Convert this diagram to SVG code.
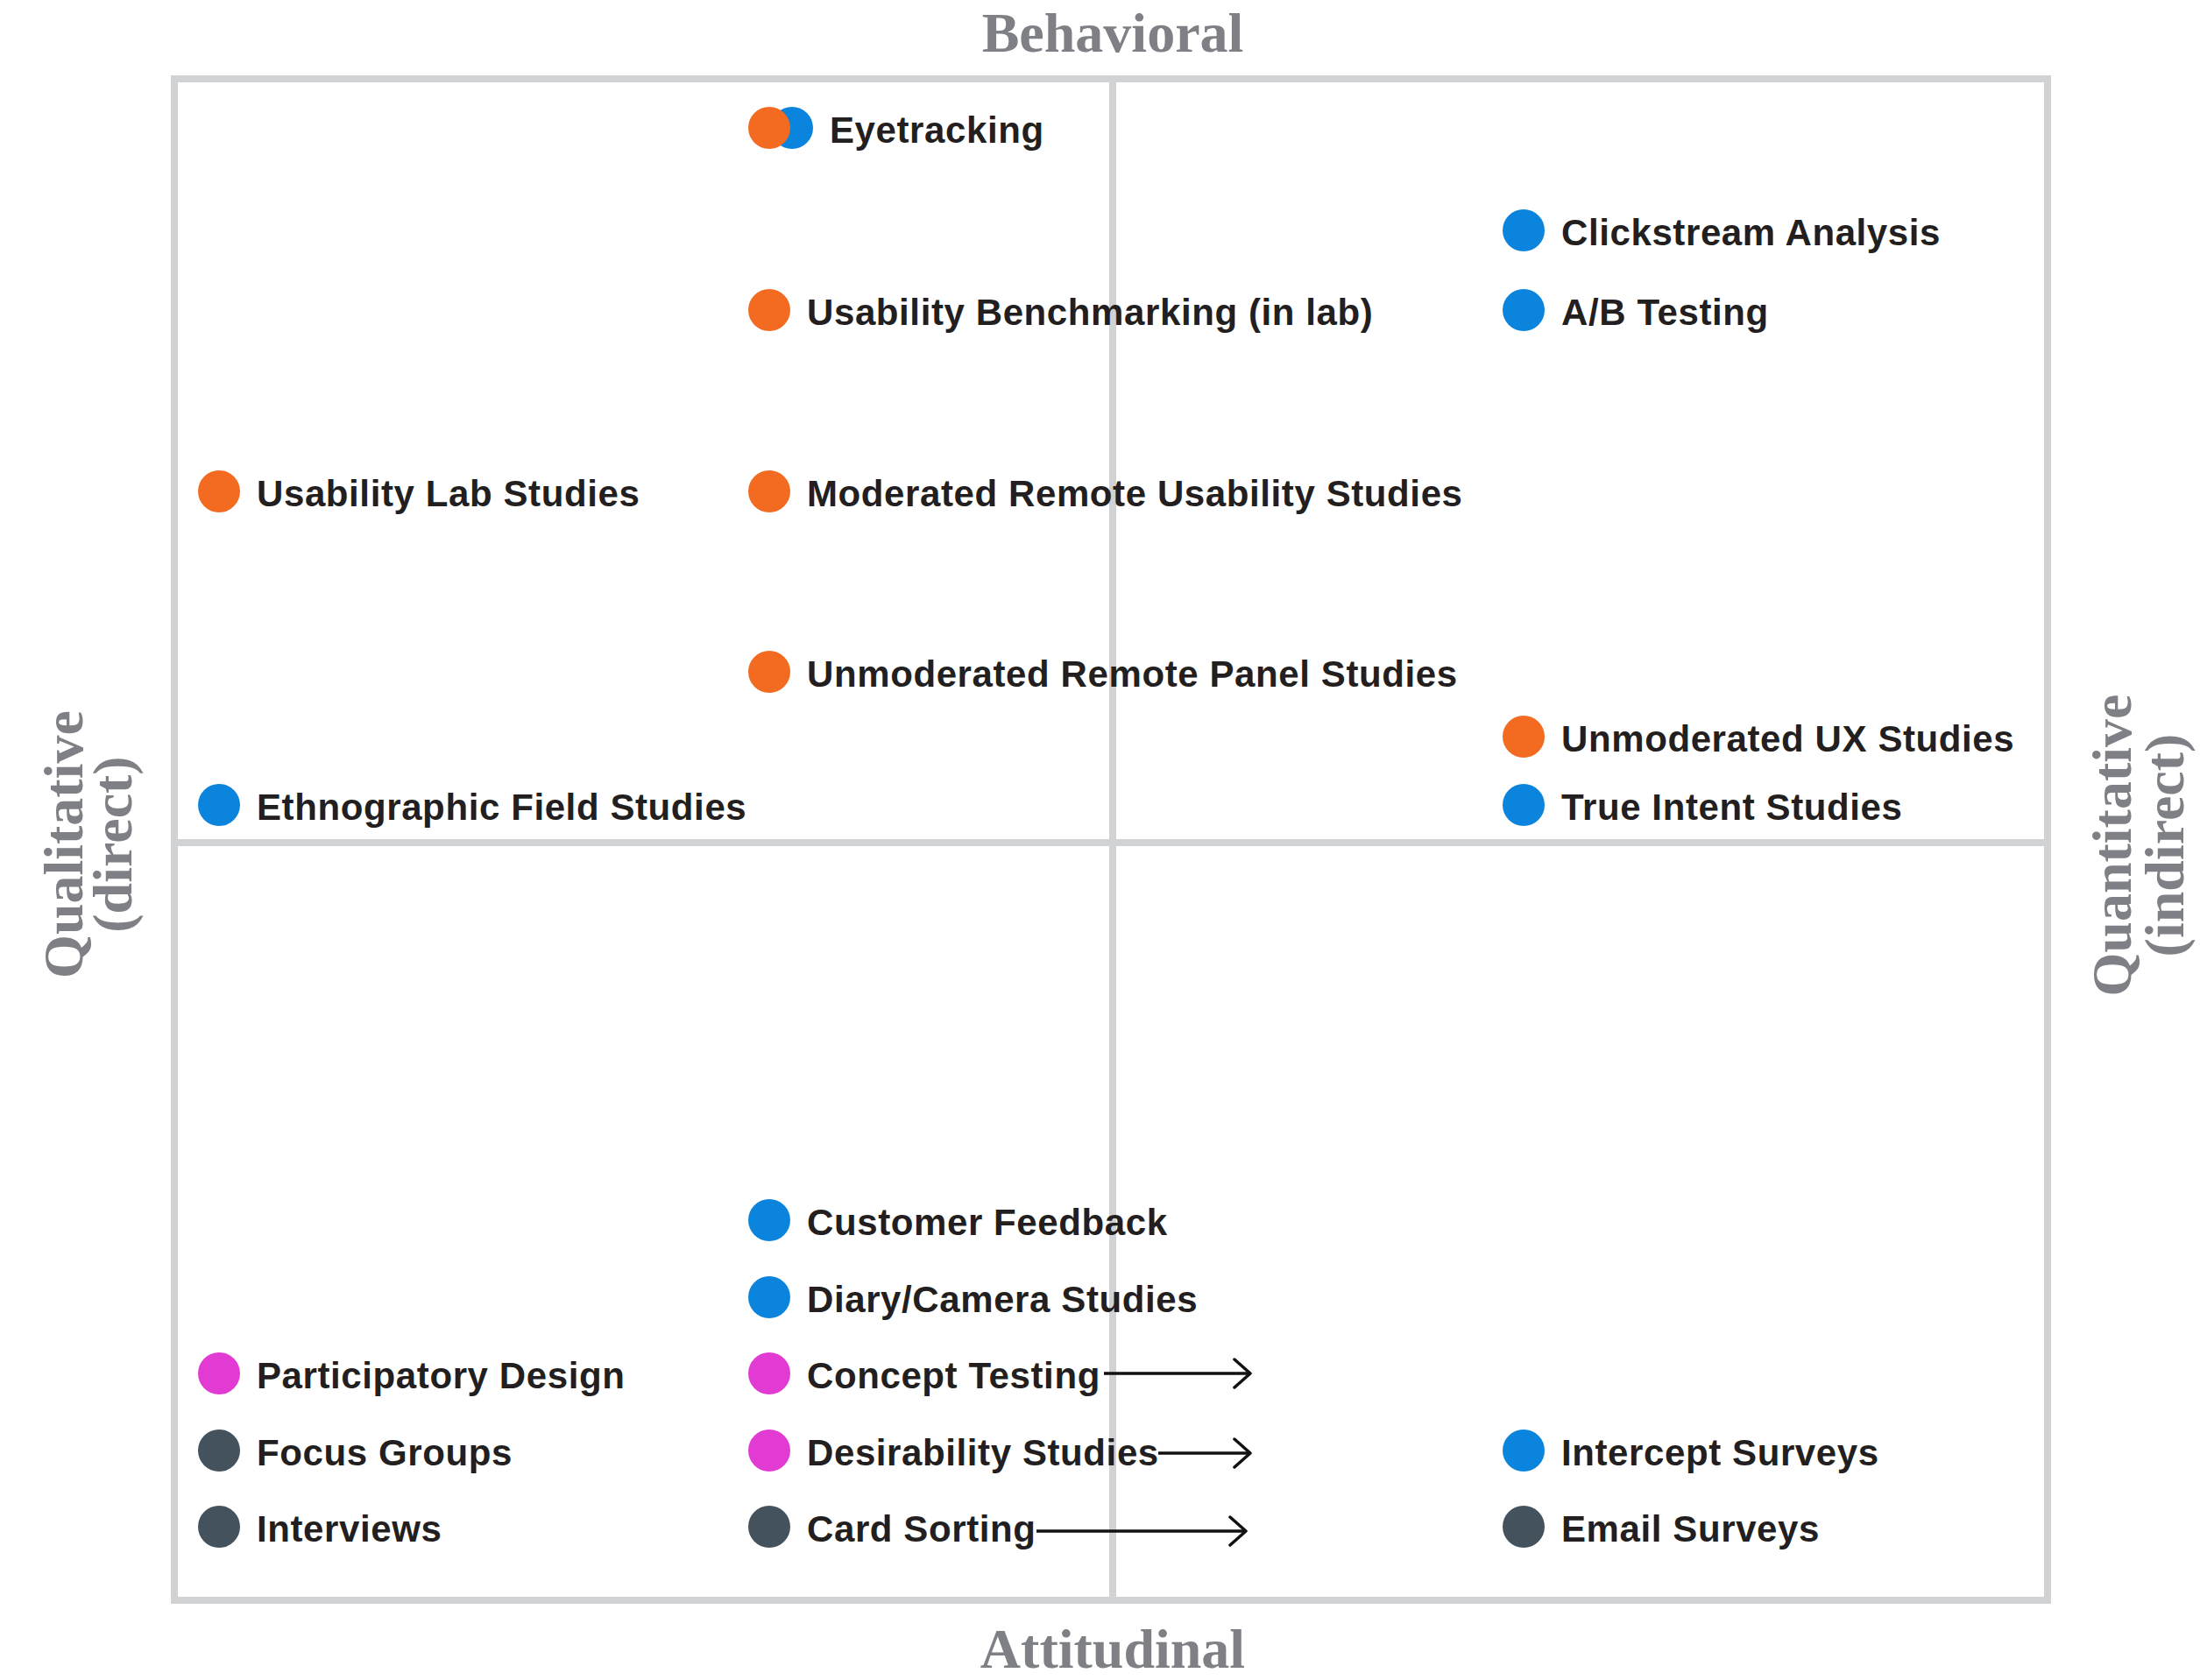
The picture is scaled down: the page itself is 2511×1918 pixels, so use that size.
<svg xmlns="http://www.w3.org/2000/svg" width="2511" height="1918" viewBox="0 0 2511 1918">
  <style>
    .frame { fill: none; stroke: #d1d2d4; stroke-width: 8; }
    .div { stroke: #d1d2d4; stroke-width: 8; }
    .axis { font-family: "Liberation Serif", "DejaVu Serif", serif; font-weight: bold; font-size: 64px; fill: #7f8085; text-anchor: middle; }
    .lbl { font-family: "Liberation Sans", Arial, sans-serif; font-weight: bold; font-size: 42px; fill: #231f20; letter-spacing: 0.6px; }
    .orange { fill: #f26b21; }
    .blue { fill: #0a84dc; }
    .magenta { fill: #e23bd3; }
    .dark { fill: #44525e; }
    .arrow { stroke: #111; stroke-width: 3.5; fill: none; marker-end: url(#chev); }
  </style>
  <defs>
    <marker id="chev" markerUnits="userSpaceOnUse" markerWidth="26" markerHeight="40" refX="21" refY="18" orient="auto" viewBox="0 0 26 40">
      <path d="M3,2 L21,18 L3,34" fill="none" stroke="#111" stroke-width="3.5" stroke-linecap="round" stroke-linejoin="round"/>
    </marker>
  </defs>
  <rect width="2511" height="1918" fill="#ffffff"/>

  <g id="grid">
    <rect class="frame" x="199" y="90" width="2138" height="1737"/>
    <line class="div" x1="1270" y1="90" x2="1270" y2="1827"/>
    <line class="div" x1="199" y1="962" x2="2337" y2="962"/>
  </g>

  <g id="axis-labels">
    <text class="axis" x="1270" y="59">Behavioral</text>
    <text class="axis" x="1270" y="1904">Attitudinal</text>
    <text class="axis" transform="translate(94,964) rotate(-90)">Qualitative</text>
    <text class="axis" transform="translate(150,964) rotate(-90)">(direct)</text>
    <text class="axis" transform="translate(2432,965) rotate(-90)">Quantitative</text>
    <text class="axis" transform="translate(2492,965) rotate(-90)">(indirect)</text>
  </g>

  <g id="node-eyetracking">
    <circle class="blue" cx="904" cy="146" r="24"/>
    <circle class="orange" cx="878" cy="146" r="24"/>
    <text class="lbl" x="947" y="163">Eyetracking</text>
  </g>
  <g id="node-clickstream">
    <circle class="blue" cx="1739" cy="263" r="24"/>
    <text class="lbl" x="1782" y="280">Clickstream Analysis</text>
  </g>
  <g id="node-ab">
    <circle class="blue" cx="1739" cy="354" r="24"/>
    <text class="lbl" x="1782" y="371">A/B Testing</text>
  </g>
  <g id="node-benchmarking">
    <circle class="orange" cx="878" cy="354" r="24"/>
    <text class="lbl" x="921" y="371">Usability Benchmarking (in lab)</text>
  </g>
  <g id="node-lab">
    <circle class="orange" cx="250" cy="561" r="24"/>
    <text class="lbl" x="293" y="578">Usability Lab Studies</text>
  </g>
  <g id="node-moderated">
    <circle class="orange" cx="878" cy="561" r="24"/>
    <text class="lbl" x="921" y="578">Moderated Remote Usability Studies</text>
  </g>
  <g id="node-panel">
    <circle class="orange" cx="878" cy="767" r="24"/>
    <text class="lbl" x="921" y="784">Unmoderated Remote Panel Studies</text>
  </g>
  <g id="node-unmoderated-ux">
    <circle class="orange" cx="1739" cy="841" r="24"/>
    <text class="lbl" x="1782" y="858">Unmoderated UX Studies</text>
  </g>
  <g id="node-ethnographic">
    <circle class="blue" cx="250" cy="919" r="24"/>
    <text class="lbl" x="293" y="936">Ethnographic Field Studies</text>
  </g>
  <g id="node-true-intent">
    <circle class="blue" cx="1739" cy="919" r="24"/>
    <text class="lbl" x="1782" y="936">True Intent Studies</text>
  </g>
  <g id="node-customer-feedback">
    <circle class="blue" cx="878" cy="1393" r="24"/>
    <text class="lbl" x="921" y="1410">Customer Feedback</text>
  </g>
  <g id="node-diary">
    <circle class="blue" cx="878" cy="1481" r="24"/>
    <text class="lbl" x="921" y="1498">Diary/Camera Studies</text>
  </g>
  <g id="node-participatory">
    <circle class="magenta" cx="250" cy="1568" r="24"/>
    <text class="lbl" x="293" y="1585">Participatory Design</text>
  </g>
  <g id="node-concept">
    <circle class="magenta" cx="878" cy="1568" r="24"/>
    <text class="lbl" x="921" y="1585">Concept Testing</text>
  </g>
  <g id="node-focus">
    <circle class="dark" cx="250" cy="1656" r="24"/>
    <text class="lbl" x="293" y="1673">Focus Groups</text>
  </g>
  <g id="node-desirability">
    <circle class="magenta" cx="878" cy="1656" r="24"/>
    <text class="lbl" x="921" y="1673">Desirability Studies</text>
  </g>
  <g id="node-intercept">
    <circle class="blue" cx="1739" cy="1656" r="24"/>
    <text class="lbl" x="1782" y="1673">Intercept Surveys</text>
  </g>
  <g id="node-interviews">
    <circle class="dark" cx="250" cy="1743" r="24"/>
    <text class="lbl" x="293" y="1760">Interviews</text>
  </g>
  <g id="node-card-sorting">
    <circle class="dark" cx="878" cy="1743" r="24"/>
    <text class="lbl" x="921" y="1760">Card Sorting</text>
  </g>
  <g id="node-email">
    <circle class="dark" cx="1739" cy="1743" r="24"/>
    <text class="lbl" x="1782" y="1760">Email Surveys</text>
  </g>

  <g id="connectors">
    <line class="arrow" x1="1260" y1="1568" x2="1427" y2="1568"/>
    <line class="arrow" x1="1322" y1="1659" x2="1427" y2="1659"/>
    <line class="arrow" x1="1183" y1="1748" x2="1422" y2="1748"/>
  </g>
</svg>
